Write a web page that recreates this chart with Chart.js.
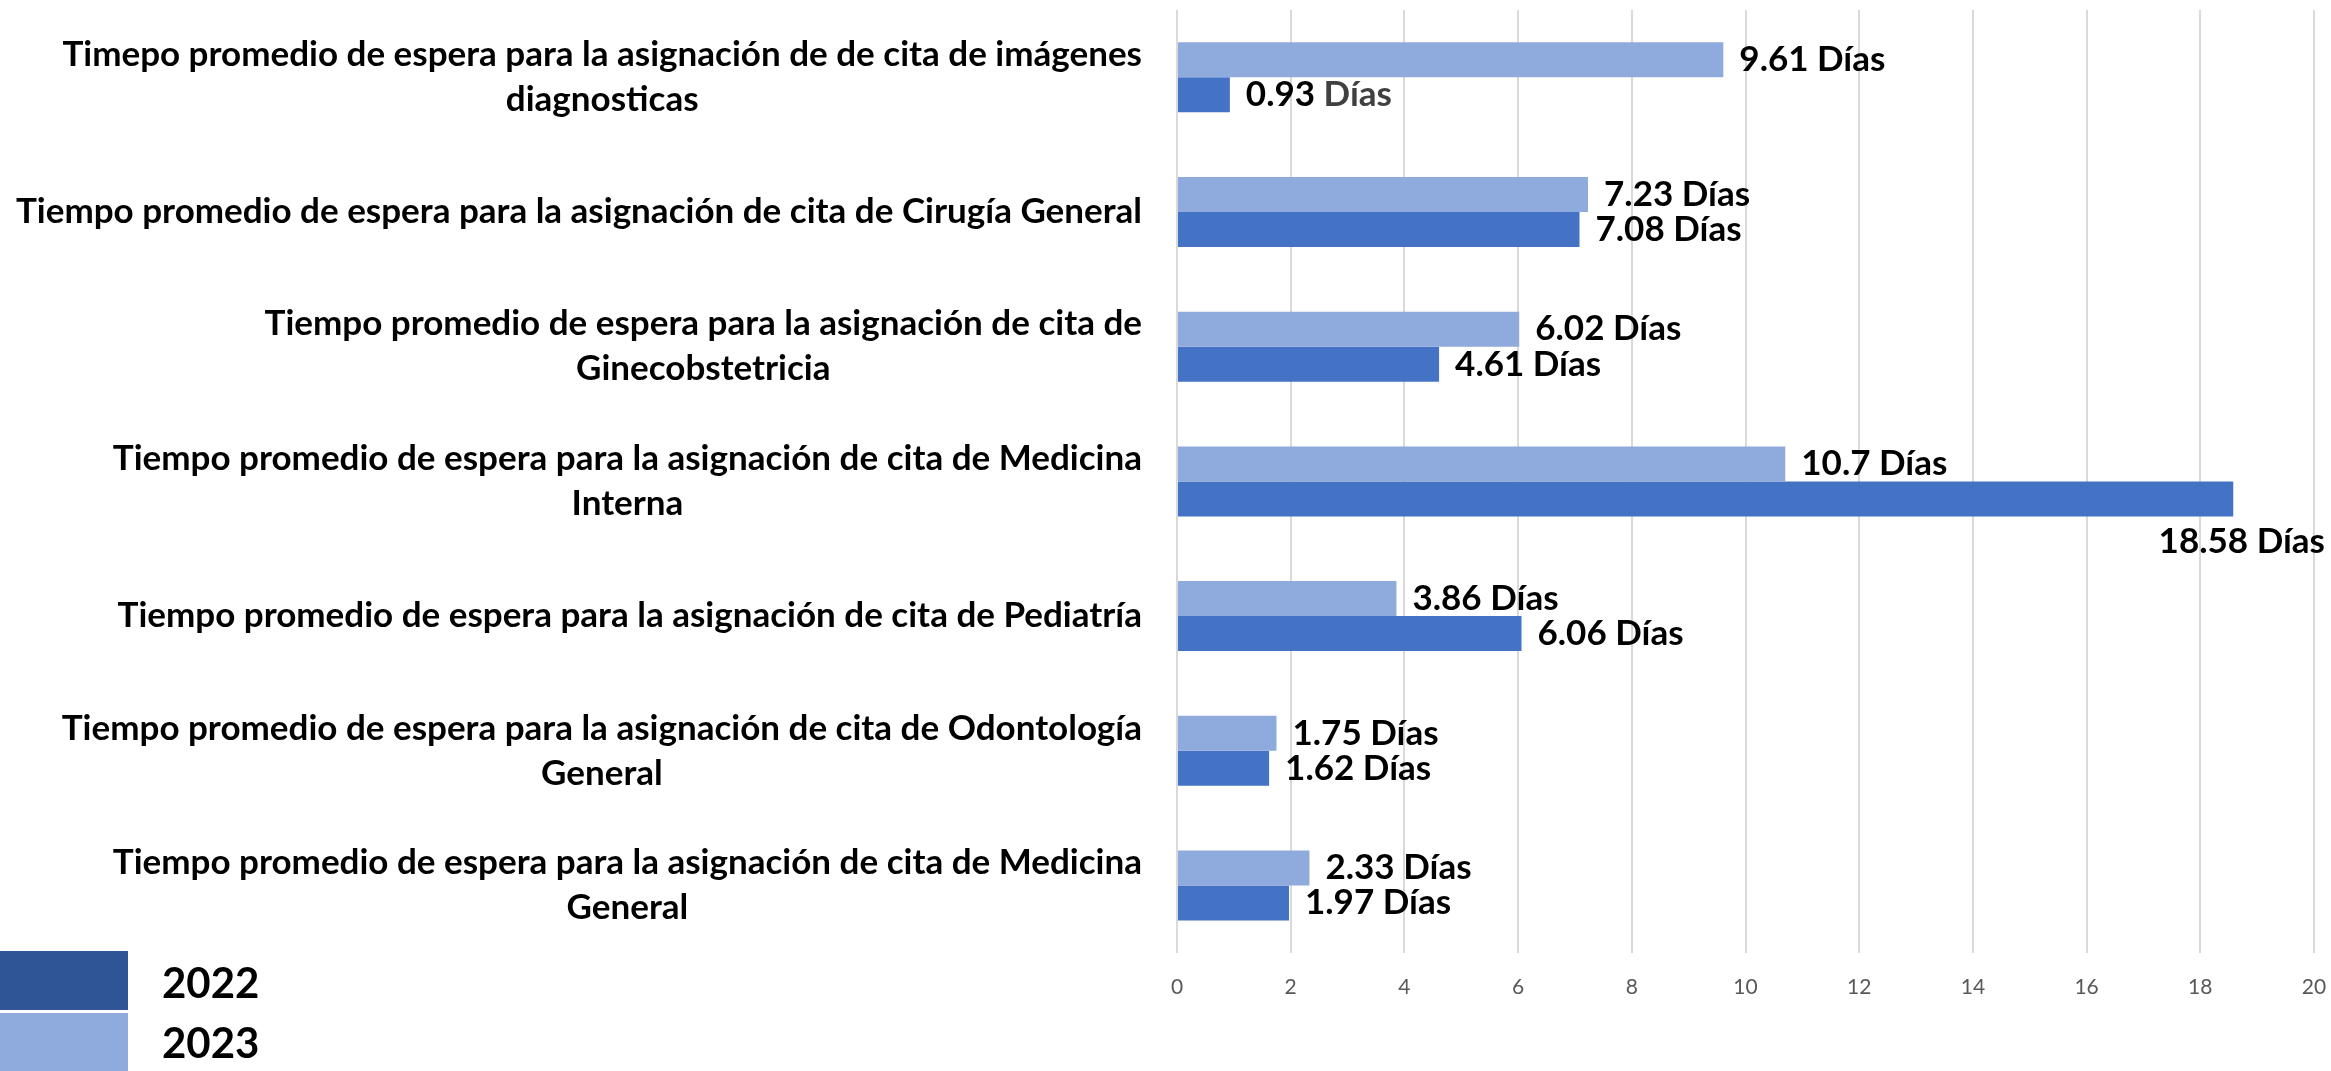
<!DOCTYPE html>
<html lang="es">
<head>
<meta charset="utf-8">
<title>Tiempo promedio de espera</title>
<script src="https://cdn.jsdelivr.net/npm/chart.js@4/dist/chart.umd.min.js"></script>
<style>
    body { margin: 0; background: #ffffff; }
    #wrap { position: relative; width: 2331px; height: 1071px; }
    .leyenda-caja { position: absolute; left: 0; width: 128px; }
    .leyenda-texto {
        position: absolute; left: 162px; height: 60px; line-height: 60px;
        font-family: Lato, sans-serif; font-weight: bold; font-size: 42px; color: #000;
    }
</style>
</head>
<body>
<div id="wrap">
    <canvas id="grafico" width="2331" height="1071"></canvas>
    <div class="leyenda-caja" style="top:951px;height:59px;background:#2F5597;"></div>
    <div class="leyenda-caja" style="top:1013px;height:58px;background:#8FAADC;"></div>
    <div class="leyenda-texto" style="top:952px;">2022</div>
    <div class="leyenda-texto" style="top:1012px;">2023</div>
</div>
<script>
// Categorias (cada una con sus saltos de linea como en el original)
const categorias = [
    ['Timepo promedio de espera para la asignación de de cita de imágenes', 'diagnosticas'],
    ['Tiempo promedio de espera para la asignación de cita de Cirugía General'],
    ['Tiempo promedio de espera para la asignación de cita de', 'Ginecobstetricia'],
    ['Tiempo promedio de espera para la asignación de cita de Medicina', 'Interna'],
    ['Tiempo promedio de espera para la asignación de cita de Pediatría'],
    ['Tiempo promedio de espera para la asignación de cita de Odontología', 'General'],
    ['Tiempo promedio de espera para la asignación de cita de Medicina', 'General']
];

// Dias promedio por año
const valores2022 = [0.93, 7.08, 4.61, 18.58, 6.06, 1.62, 1.97];
const valores2023 = [9.61, 7.23, 6.02, 10.7, 3.86, 1.75, 2.33];

// Eje X
const ejeMin = 0;
const ejeMax = 20;
const ejePaso = 2;

const FUENTE = 'Lato, sans-serif';

/**
 * Dibuja las etiquetas de categoria a la izquierda (bloque alineado a la derecha, lineas centradas)
 */
const etiquetasCategorias = {
    id: 'etiquetasCategorias',
    afterDraw(chart) {
        const ctx = chart.ctx;
        const escalaY = chart.scales.y;
        const bordeDerecho = chart.chartArea.left - 35;
        const altoLinea = 45;
        ctx.save();
        ctx.font = 'bold 35px ' + FUENTE;
        ctx.fillStyle = '#000000';
        ctx.textAlign = 'center';
        ctx.textBaseline = 'middle';
        categorias.forEach((lineas, i) => {
            const yCentro = escalaY.getPixelForValue(i);
            const anchoMax = Math.max(...lineas.map(l => ctx.measureText(l).width));
            const xCentro = bordeDerecho - anchoMax / 2;
            const yInicio = yCentro - (lineas.length - 1) * altoLinea / 2;
            lineas.forEach((linea, j) => {
                ctx.fillText(linea, xCentro, yInicio + j * altoLinea);
            });
        });
        ctx.restore();
    }
};

/**
 * Etiquetas de valor al final de cada barra ("x Días")
 */
const etiquetasValores = {
    id: 'etiquetasValores',
    afterDatasetsDraw(chart) {
        const ctx = chart.ctx;
        const limite = chart.width - 6;
        ctx.save();
        ctx.font = 'bold 35px ' + FUENTE;
        ctx.textBaseline = 'middle';
        ctx.textAlign = 'left';
        chart.data.datasets.forEach((ds, di) => {
            const meta = chart.getDatasetMeta(di);
            meta.data.forEach((barra, i) => {
                const numero = String(ds.data[i]);
                const sufijo = ' Días';
                const anchoNum = ctx.measureText(numero).width;
                const ancho = anchoNum + ctx.measureText(sufijo).width;
                let x = barra.x + 16;
                let y = barra.y;
                // si no cabe a la derecha, se coloca debajo de la barra
                if (x + ancho > limite) {
                    x = limite - ancho;
                    y = barra.y + barra.height / 2 + 25;
                }
                // caso particular: en la primera barra de 2022 el sufijo sale en gris
                const colorSufijo = (ds.label === '2022' && i === 0) ? '#404040' : '#000000';
                ctx.fillStyle = '#000000';
                ctx.fillText(numero, x, y);
                ctx.fillStyle = colorSufijo;
                ctx.fillText(sufijo, x + anchoNum, y);
            });
        });
        ctx.restore();
    }
};

document.addEventListener('DOMContentLoaded', function() {
    const ctx = document.getElementById('grafico');

    new Chart(ctx, {
        type: 'bar',
        data: {
            labels: categorias.map(c => c.join(' ')),
            datasets: [
                {
                    label: '2023',
                    data: valores2023,
                    backgroundColor: '#8FAADC',
                    borderWidth: 0
                },
                {
                    label: '2022',
                    data: valores2022,
                    backgroundColor: '#4472C4',
                    borderWidth: 0
                }
            ]
        },
        options: {
            indexAxis: 'y',
            responsive: false,
            animation: false,
            devicePixelRatio: 1,
            layout: {
                padding: { left: 1177, right: 17, top: 10, bottom: 49 }
            },
            datasets: {
                bar: {
                    categoryPercentage: 0.52,
                    barPercentage: 1.0
                }
            },
            plugins: {
                legend: { display: false },
                tooltip: { enabled: false }
            },
            scales: {
                x: {
                    min: ejeMin,
                    max: ejeMax,
                    border: { display: false },
                    grid: {
                        color: '#D9D9D9',
                        lineWidth: 2,
                        drawTicks: false
                    },
                    ticks: {
                        stepSize: ejePaso,
                        padding: 22,
                        color: '#595959',
                        font: { family: FUENTE, size: 21 }
                    },
                    // sin reserva extra para la ultima etiqueta del eje
                    afterFit(escala) {
                        escala.paddingRight = 0;
                        escala.paddingLeft = 0;
                    }
                },
                y: {
                    border: { display: false },
                    grid: { display: false, drawTicks: false },
                    ticks: { display: false }
                }
            }
        },
        plugins: [etiquetasCategorias, etiquetasValores]
    });
});
</script>
</body>
</html>
